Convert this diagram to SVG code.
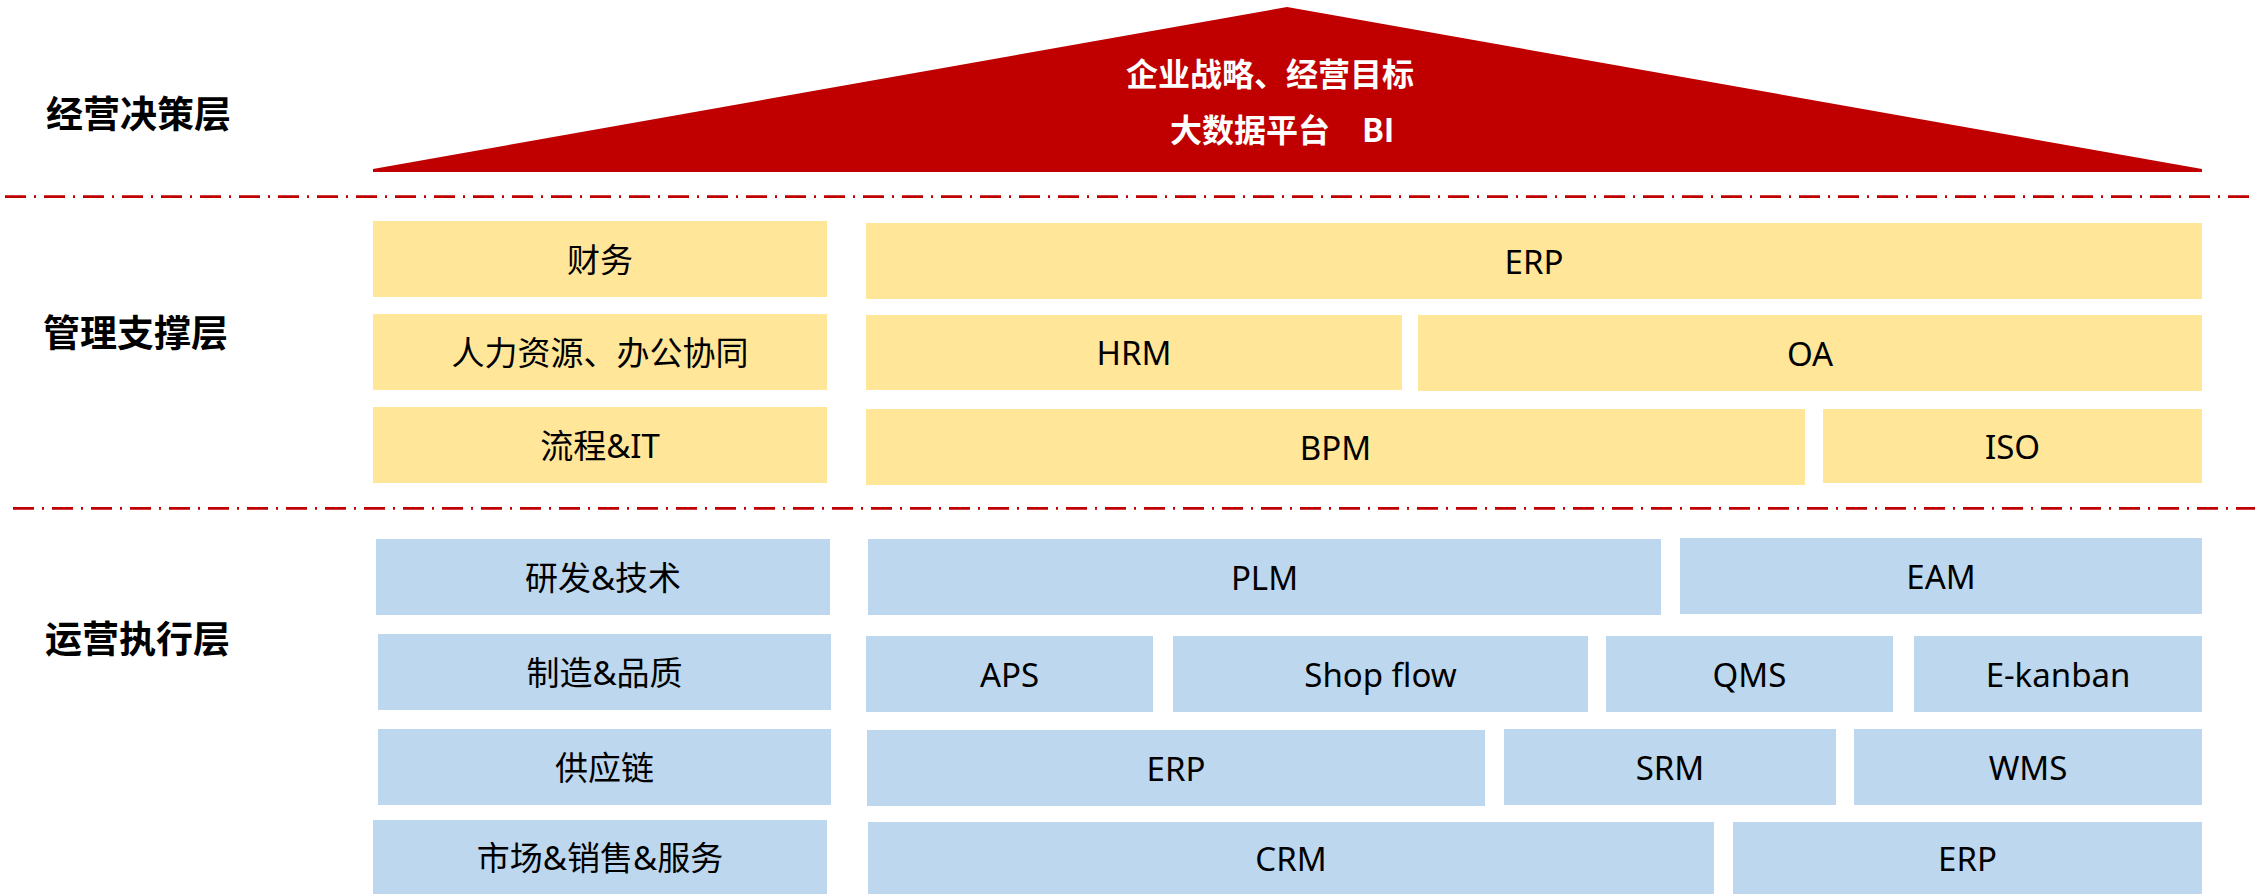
<svg xmlns="http://www.w3.org/2000/svg" width="2260" height="894" viewBox="0 0 2260 894">
<style>
.bg{fill:#FFFFFF}
.y{fill:#FFE699}
.b{fill:#BDD7EE}
.t{font-family:"Noto Sans","Noto Sans CJK SC",sans-serif;font-size:33px;fill:#000000;text-anchor:middle;dominant-baseline:central}
.lay{font-family:"Noto Sans CJK SC","Noto Sans",sans-serif;font-size:37px;font-weight:bold;fill:#000000;dominant-baseline:central}
.tt{font-family:"Noto Sans CJK SC","Noto Sans",sans-serif;font-size:32px;font-weight:bold;fill:#FFFFFF}
.sep{stroke:#C00000;stroke-width:2.7;stroke-dasharray:21 8 2 8;fill:none}
</style>
<rect class="bg" x="0" y="0" width="2260" height="894"/>

<g id="layer-labels">
<text class="lay" x="46" y="112">经营决策层</text>
<text class="lay" x="43" y="331">管理支撑层</text>
<text class="lay" x="45" y="637">运营执行层</text>
</g>

<g id="roof">
<polygon points="373,172 373,169 1287,7 2202,169 2202,172" fill="#C00000"/>
<text class="tt" x="1126" y="86">企业战略、经营目标</text>
<text class="tt" x="1170" y="142">大数据平台　BI</text>
</g>

<g id="separators">
<line class="sep" x1="5" y1="196.7" x2="2255" y2="196.7"/>
<line class="sep" x1="13" y1="508.3" x2="2255" y2="508.3"/>
</g>

<g id="n-finance"><rect class="y" x="373" y="221" width="454" height="76"/><text class="t" x="600" y="259">财务</text></g>
<g id="n-hr"><rect class="y" x="373" y="314" width="454" height="76"/><text class="t" x="600" y="352">人力资源、办公协同</text></g>
<g id="n-process"><rect class="y" x="373" y="407" width="454" height="76"/><text class="t" x="600" y="445">流程&amp;IT</text></g>
<g id="n-erp1"><rect class="y" x="866" y="223" width="1336" height="76"/><text class="t" x="1534" y="261">ERP</text></g>
<g id="n-hrm"><rect class="y" x="866" y="315" width="536" height="75"/><text class="t" x="1134" y="352.5">HRM</text></g>
<g id="n-oa"><rect class="y" x="1418" y="315" width="784" height="76"/><text class="t" x="1810" y="353">OA</text></g>
<g id="n-bpm"><rect class="y" x="866" y="409" width="939" height="76"/><text class="t" x="1335.5" y="447">BPM</text></g>
<g id="n-iso"><rect class="y" x="1823" y="409" width="379" height="74"/><text class="t" x="2012.5" y="446">ISO</text></g>

<g id="n-rd"><rect class="b" x="376" y="539" width="454" height="76"/><text class="t" x="603" y="577">研发&amp;技术</text></g>
<g id="n-mfg"><rect class="b" x="378" y="634" width="453" height="76"/><text class="t" x="604.5" y="672">制造&amp;品质</text></g>
<g id="n-scm"><rect class="b" x="378" y="729" width="453" height="76"/><text class="t" x="604.5" y="767">供应链</text></g>
<g id="n-mkt"><rect class="b" x="373" y="820" width="454" height="74"/><text class="t" x="600" y="857">市场&amp;销售&amp;服务</text></g>
<g id="n-plm"><rect class="b" x="868" y="539" width="793" height="76"/><text class="t" x="1264.5" y="577">PLM</text></g>
<g id="n-eam"><rect class="b" x="1680" y="538" width="522" height="76"/><text class="t" x="1941" y="576">EAM</text></g>
<g id="n-aps"><rect class="b" x="866" y="636" width="287" height="76"/><text class="t" x="1009.5" y="674">APS</text></g>
<g id="n-shopflow"><rect class="b" x="1173" y="636" width="415" height="76"/><text class="t" x="1380.5" y="674">Shop flow</text></g>
<g id="n-qms"><rect class="b" x="1606" y="636" width="287" height="76"/><text class="t" x="1749.5" y="674">QMS</text></g>
<g id="n-ekanban"><rect class="b" x="1914" y="636" width="288" height="76"/><text class="t" x="2058" y="674">E-kanban</text></g>
<g id="n-erp2"><rect class="b" x="867" y="730" width="618" height="76"/><text class="t" x="1176" y="768">ERP</text></g>
<g id="n-srm"><rect class="b" x="1504" y="729" width="332" height="76"/><text class="t" x="1670" y="767">SRM</text></g>
<g id="n-wms"><rect class="b" x="1854" y="729" width="348" height="76"/><text class="t" x="2028" y="767">WMS</text></g>
<g id="n-crm"><rect class="b" x="868" y="822" width="846" height="72"/><text class="t" x="1291" y="858">CRM</text></g>
<g id="n-erp3"><rect class="b" x="1733" y="822" width="469" height="72"/><text class="t" x="1967.5" y="858">ERP</text></g>
</svg>
